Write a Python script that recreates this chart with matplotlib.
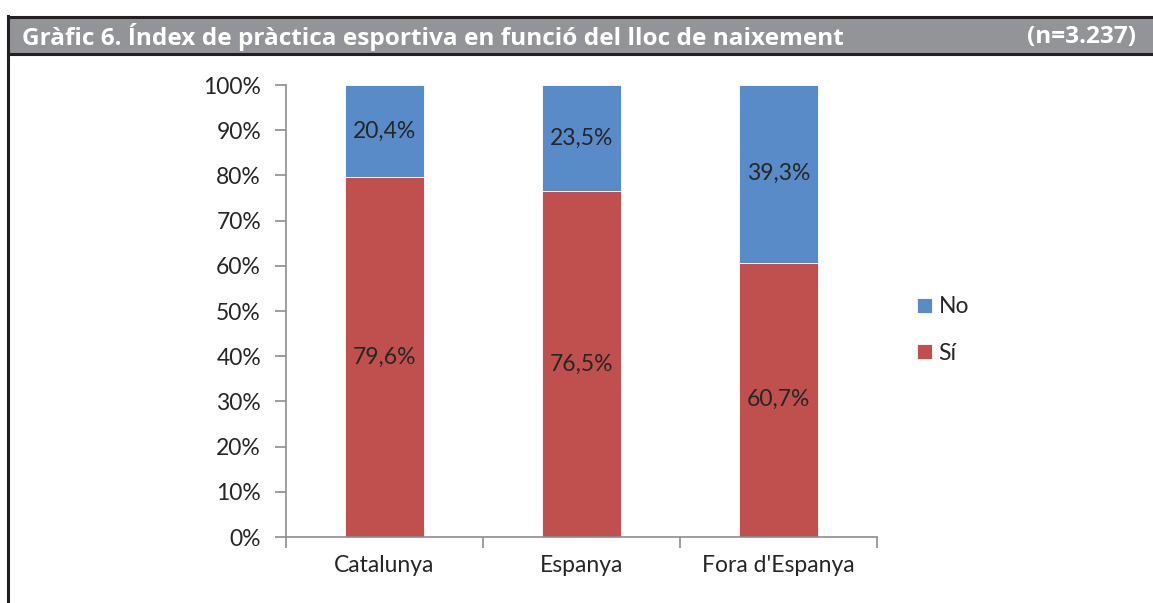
import matplotlib.pyplot as plt
import matplotlib.patches as mpatches
from matplotlib.lines import Line2D

# data
categories = ["Catalunya", "Espanya", "Fora d'Espanya"]
si_values = [79.6, 76.5, 60.7]
no_values = [20.4, 23.5, 39.3]
yticks = [0, 10, 20, 30, 40, 50, 60, 70, 80, 90, 100]

title = "Gràfic 6. Índex de pràctica esportiva en funció del lloc de naixement"
n_label = "(n=3.237)"

red = "#C0504D"
blue = "#5A8BC9"
axis_gray = "#8C8C8C"
txt = "#262626"

plt.rcParams['font.family'] = ['Lato', 'DejaVu Sans']
fs = 16.5

W, H = 1153, 603
fig = plt.figure(figsize=(W / 100, H / 100), dpi=100)

# title bar + frame
fig.patches.append(mpatches.Rectangle((8 / W, 1 - 54 / H), 1 - 8 / W, 37 / H,
                                      transform=fig.transFigure, facecolor="#939498",
                                      edgecolor="none"))
for y in (16.5, 54):
    fig.lines.append(Line2D([8 / W, 1], [1 - y / H, 1 - y / H], transform=fig.transFigure,
                            color="#231F20", lw=2.2))
fig.lines.append(Line2D([8 / W, 8 / W], [0, 1 - 16 / H], transform=fig.transFigure,
                        color="#231F20", lw=2.2))
fig.text(22 / W, 1 - 37 / H, title, color="white", fontsize=17.6, fontweight="bold",
         family=['Open Sans', 'DejaVu Sans'], va="center", ha="left")
fig.text(1136 / W, 1 - 37 / H, n_label, color="white", fontsize=17.6, fontweight="bold",
         family=['Open Sans', 'DejaVu Sans'], va="center", ha="right")

ax = fig.add_axes([286 / W, 1 - 537 / H, (877 - 286) / W, (537 - 85) / H])
x = range(len(categories))
b1 = ax.bar(x, si_values, width=0.4, color=red, edgecolor="white", linewidth=0.6, label="Sí")
b2 = ax.bar(x, no_values, width=0.4, bottom=si_values, color=blue, edgecolor="white",
            linewidth=0.6, label="No")

for i in x:
    ax.text(i, si_values[i] / 2, f"{si_values[i]:.1f}%".replace(".", ","),
            ha="center", va="center", fontsize=fs, color=txt)
    ax.text(i, si_values[i] + no_values[i] / 2, f"{no_values[i]:.1f}%".replace(".", ","),
            ha="center", va="center", fontsize=fs, color=txt)

ax.set_xlim(-0.5, 2.5)
ax.set_ylim(0, 100)
ax.set_yticks(yticks)
ax.set_yticklabels([f"{v}%" for v in yticks], fontsize=fs, color=txt)
ax.set_xticks([-0.5, 0.5, 1.5, 2.5])
ax.set_xticklabels([])
ax.set_xticks(list(x), minor=True)
ax.set_xticklabels(categories, minor=True, fontsize=fs, color=txt)
ax.tick_params(axis="x", which="minor", length=0, pad=13)
ax.tick_params(axis="x", which="major", length=8, color=axis_gray, width=1.2)
ax.tick_params(axis="y", length=8, color=axis_gray, width=1.2, pad=10)

for s in ("top", "right"):
    ax.spines[s].set_visible(False)
for s in ("left", "bottom"):
    ax.spines[s].set_color(axis_gray)
    ax.spines[s].set_linewidth(1.2)

leg = fig.legend(handles=[b2, b1], labels=["No", "Sí"], loc="center left",
                 bbox_to_anchor=(896 / W, 1 - 330 / H), frameon=False, fontsize=fs,
                 handlelength=0.65, handleheight=0.65, handletextpad=0.3, labelspacing=1.1)
for t in leg.get_texts():
    t.set_color(txt)

fig.savefig("out.png", dpi=100)
